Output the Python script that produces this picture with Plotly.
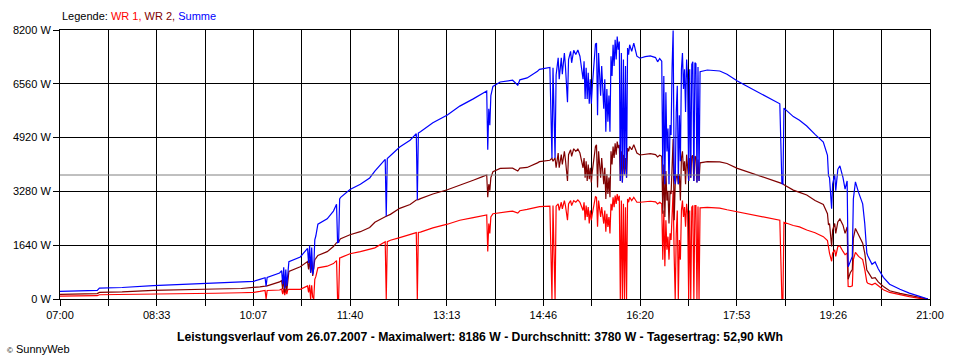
import plotly.graph_objects as go

# ---------------- data ----------------
times = [
    "07:00", "07:20", "07:36", "07:38", "08:00", "08:30", "09:00", "09:30", "09:55", "10:07",
    "10:13", "10:18", "10:19", "10:20", "10:32", "10:34", "10:35", "10:36", "10:37", "10:38",
    "10:39", "10:40", "10:41", "10:52", "10:59", "11:00", "11:01", "11:02", "11:03", "11:04",
    "11:05", "11:06", "11:07", "11:09", "11:18", "11:24", "11:27", "11:28", "11:29", "11:30",
    "11:31", "11:40", "11:50", "11:59", "12:04", "12:14", "12:15", "12:16", "12:19", "12:28",
    "12:38", "12:44", "12:45", "12:46", "12:48", "13:00", "13:14", "13:26", "13:39", "13:48",
    "13:52", "13:53", "13:54", "13:55", "13:56", "13:58", "14:05", "14:17", "14:22", "14:24",
    "14:31", "14:41", "14:43", "14:53", "14:55", "14:56", "14:58", "14:59", "15:01", "15:02",
    "15:04", "15:05", "15:07", "15:08", "15:10", "15:11", "15:13", "15:14", "15:16", "15:18",
    "15:20", "15:22", "15:25", "15:26", "15:27", "15:28", "15:29", "15:30", "15:31", "15:32",
    "15:33", "15:34", "15:37", "15:38", "15:39", "15:40", "15:41", "15:42", "15:43", "15:44",
    "15:45", "15:46", "15:47", "15:48", "15:49", "15:50", "15:51", "15:52", "15:53", "15:54",
    "15:55", "15:56", "15:57", "15:58", "15:59", "16:00", "16:01", "16:02", "16:03", "16:04",
    "16:05", "16:06", "16:07", "16:08", "16:09", "16:10", "16:12", "16:14", "16:16", "16:17",
    "16:20", "16:25", "16:30", "16:35", "16:37", "16:39", "16:41", "16:42", "16:43", "16:44",
    "16:45", "16:46", "16:47", "16:48", "16:49", "16:50", "16:51", "16:52", "16:53", "16:54",
    "16:55", "16:56", "16:57", "16:58", "16:59", "17:00", "17:01", "17:02", "17:03", "17:04",
    "17:05", "17:06", "17:07", "17:08", "17:09", "17:10", "17:11", "17:12", "17:13", "17:14",
    "17:15", "17:16", "17:17", "17:18", "17:25", "17:37", "17:44", "17:54", "18:06", "18:16",
    "18:25", "18:35", "18:37", "18:38", "18:39", "18:48", "18:54", "19:01", "19:09", "19:14",
    "19:17", "19:21", "19:22", "19:23", "19:25", "19:26", "19:28", "19:29", "19:31", "19:33",
    "19:36", "19:38", "19:40", "19:41", "19:43", "19:45", "19:46", "19:48", "19:51", "19:55",
    "19:57", "19:59", "20:00", "20:04", "20:07", "20:10", "20:15", "20:21", "20:31", "20:40",
    "20:50", "20:55", "20:58",
]

wr1 = [
    90, 95, 100, 130, 135, 150, 160, 175, 190, 200,
    230, 260, 0, 260, 274, 300, 150, 320, 120, 300,
    150, 290, 296, 296, 400, 200, 430, 0, 420, 50,
    0, 600, 680, 950, 1000, 1080, 1170, 0, 0, 1250,
    1260, 1380, 1443, 1510, 1560, 1747, 0, 1750, 1790, 1870,
    1960, 2022, 0, 2030, 2040, 2170, 2280, 2400, 2480, 2530,
    2560, 1450, 2300, 2000, 2500, 2600, 2631, 2680, 2620, 2690,
    2730, 2794, 2813, 2830, 0, 2850, 0, 2830, 2900, 2700,
    2950, 2750, 3000, 2850, 2400, 2900, 3000, 2850, 3000, 2950,
    3020, 2950, 2700, 2950, 2400, 2850, 2500, 2800, 2300, 2700,
    2400, 2600, 3120, 3100, 2200, 3000, 2700, 2500, 2800, 2600,
    2300, 2700, 2050, 2600, 2200, 2500, 2000, 2900, 2700, 3100,
    2800, 3150, 2900, 3200, 3000, 3150, 0, 3000, 0, 2900,
    0, 2800, 0, 3050, 2950, 3100, 3000, 3100, 3000, 2950,
    2950, 2970, 2980, 2960, 2900, 2950, 2900, 1200, 2700, 1000,
    2400, 1500, 1900, 1200, 2000, 1800, 2800, 3306, 1300, 0,
    2000, 2700, 0, 1800, 1200, 2700, 3000, 2500, 2800, 2200,
    2900, 2600, 0, 2700, 0, 2800, 2850, 0, 2850, 2850,
    0, 2820, 0, 2780, 2790, 2770, 2720, 2661, 2591, 2530,
    2470, 2400, 0, 0, 2340, 2240, 2200, 2103, 2020, 1951,
    1900, 1780, 1500, 1393, 1150, 1400, 1500, 1300, 1600, 1620,
    1450, 1350, 1400, 380, 375, 400, 1200, 1420, 1300, 1200,
    900, 520, 478, 430, 480, 400, 280, 200, 122, 70,
    21, 10, 0,
]

wr2 = [
    140, 155, 165, 200, 215, 260, 290, 305, 320, 340,
    370, 390, 390, 400, 520, 560, 300, 650, 200, 600,
    250, 680, 840, 985, 1140, 900, 1200, 800, 1150, 700,
    950, 1200, 1240, 1330, 1443, 1600, 1716, 1716, 1730, 1800,
    1840, 1960, 2052, 2180, 2340, 2509, 2520, 2530, 2580, 2764,
    2880, 3018, 3018, 3030, 3060, 3200, 3330, 3480, 3620, 3730,
    3780, 3100, 3500, 3300, 3700, 3880, 3983, 3990, 3900, 3990,
    4010, 4150, 4186, 4230, 4290, 4200, 4300, 4000, 4450, 4000,
    4400, 4100, 4500, 4250, 3600, 4400, 4550, 4350, 4580, 4500,
    4570, 4450, 4000, 4300, 3700, 4200, 3600, 4100, 3650, 4000,
    3550, 3900, 4650, 4700, 3400, 4500, 4100, 3700, 4300, 3900,
    3500, 4000, 3050, 3800, 3200, 3700, 3100, 4500, 4100, 4650,
    4300, 4750, 4400, 4800, 4600, 4700, 3600, 4500, 3550, 4400,
    3800, 4300, 3700, 4600, 4500, 4650, 4550, 4700, 4500, 4450,
    4390, 4420, 4430, 4400, 4330, 4380, 4350, 2600, 4100, 2500,
    3900, 3000, 3300, 2300, 3300, 3200, 4300, 4880, 2400, 3500,
    3700, 3800, 3500, 3800, 3000, 4300, 4500, 3900, 4200, 3500,
    4400, 4100, 3600, 4300, 3700, 4350, 4380, 3600, 4350, 4320,
    3550, 4250, 3600, 4150, 4190, 4180, 4130, 3983, 3850, 3750,
    3650, 3550, 3520, 3510, 3480, 3320, 3250, 3170, 3000, 2916,
    2880, 2600, 2256, 2300, 1600, 2100, 2300, 2000, 2350, 2440,
    2250, 2000, 2200, 600, 800, 900, 1850, 2150, 1950, 1700,
    1400, 880, 833, 630, 650, 520, 380, 250, 173, 110,
    60, 20, 0,
]

avg_w = 3780
y_ticks = [0, 1640, 3280, 4920, 6560, 8200]
x_labels = ["07:00", "08:33", "10:07", "11:40", "13:13", "14:46", "16:20", "17:53", "19:26", "21:00"]

title_text = ("Leistungsverlauf vom 26.07.2007 - Maximalwert: 8186 W - "
              "Durchschnitt: 3780 W - Tagesertrag: 52,90 kWh")

# ---------------- build ----------------
def to_min(s):
    h, m = s.split(":")
    return (int(h) - 7) * 60 + int(m)

xm = [to_min(t) for t in times]
summe = [a + b for a, b in zip(wr1, wr2)]

FONT = "Liberation Sans, Arial, sans-serif"

fig = go.Figure()
fig.add_trace(go.Scatter(x=xm, y=wr1, mode="lines", name="WR 1",
                         line=dict(color="#FF0000", width=1.2)))
fig.add_trace(go.Scatter(x=xm, y=wr2, mode="lines", name="WR 2",
                         line=dict(color="#800000", width=1.2)))
fig.add_trace(go.Scatter(x=xm, y=summe, mode="lines", name="Summe",
                         line=dict(color="#0000FF", width=1.2)))

span = 14 * 60
n_ticks = 2 * (len(x_labels) - 1)
tickvals_x = [i * span / n_ticks for i in range(n_ticks + 1)]
ticktext_x = []
for i in range(n_ticks + 1):
    ticktext_x.append(x_labels[i // 2] if i % 2 == 0 else "")

fig.add_shape(type="line", xref="x", yref="y", x0=0, x1=span, y0=avg_w, y1=avg_w,
              line=dict(color="#808080", width=1), layer="above")

fig.update_layout(
    width=960, height=360,
    margin=dict(l=60, r=30, t=30, b=61),
    paper_bgcolor="white", plot_bgcolor="white",
    showlegend=False,
    font=dict(family=FONT, size=11, color="black"),
    title=dict(text="<b>" + title_text + "</b>", x=0.5, xanchor="center",
               y=1 - 337 / 360, yanchor="middle", yref="container",
               font=dict(family=FONT, size=12.2, color="black")),
    xaxis=dict(range=[0, span], tickmode="array", tickvals=tickvals_x, ticktext=ticktext_x,
               ticks="outside", ticklen=6, tickcolor="black", tickwidth=1,
               showgrid=True, gridcolor="black", gridwidth=1,
               showline=True, linecolor="black", linewidth=1, mirror=True,
               zeroline=False, automargin=False,
               tickfont=dict(family=FONT, size=11, color="black")),
    yaxis=dict(range=[0, 8200], tickmode="array", tickvals=y_ticks,
               ticktext=[f"{v} W" for v in y_ticks],
               ticks="outside", ticklen=6, tickcolor="black", tickwidth=1,
               showgrid=True, gridcolor="black", gridwidth=1,
               showline=True, linecolor="black", linewidth=1, mirror=True,
               zeroline=False, automargin=False,
               tickfont=dict(family=FONT, size=11, color="black")),
    annotations=[
        dict(xref="paper", yref="paper", x=0, y=(299 - 16) / 269, xanchor="left", yanchor="middle",
             showarrow=False, font=dict(family=FONT, size=11, color="black"),
             text=("Legende: <span style='color:#FF0000'>WR 1,</span> "
                   "<span style='color:#800000'>WR 2,</span> "
                   "<span style='color:#0000FF'>Summe</span>")),
        dict(xref="paper", yref="paper", x=(5 - 60) / 870, y=(299 - 349) / 269,
             xanchor="left", yanchor="middle", showarrow=False,
             font=dict(family=FONT, size=11, color="black"),
             text="<span style='font-size:8px'>©</span> SunnyWeb"),
    ],
)

fig.write_html("out.html", config={"displayModeBar": False},
               post_script="document.body.style.margin='0px';document.body.style.overflow='hidden';")
